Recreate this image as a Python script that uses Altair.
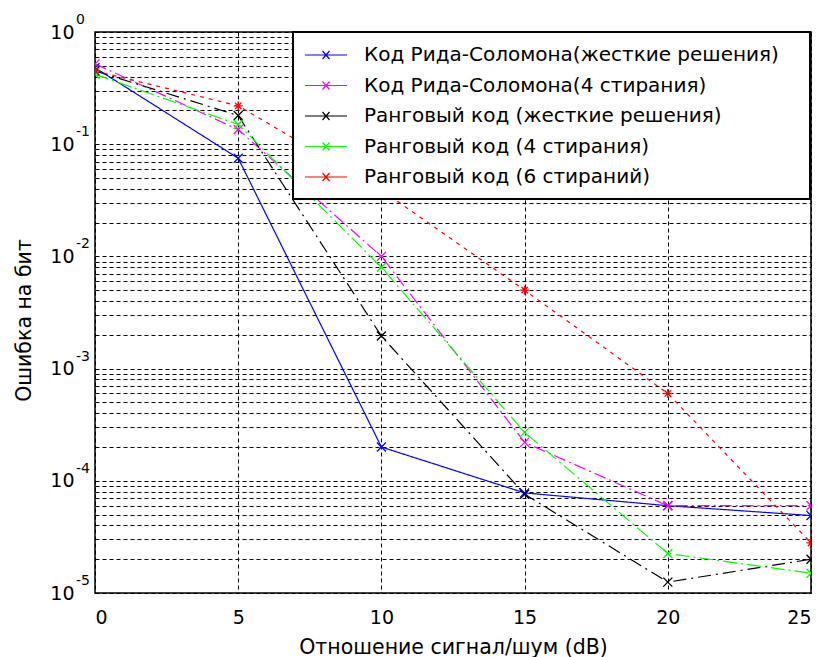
import altair as alt
import pandas as pd

x_vals = [0, 5, 10, 15, 20, 25]
series_names = [
    "Код Рида-Соломона(жесткие решения)",
    "Код Рида-Соломона(4 стирания)",
    "Ранговый код (жесткие решения)",
    "Ранговый код (4 стирания)",
    "Ранговый код (6 стираний)",
]
rs_hard = [0.48, 0.075, 2.0e-4, 7.8e-5, 6.0e-5, 4.9e-5]
rs_4 = [0.52, 0.135, 1.0e-2, 2.2e-4, 6.0e-5, 6.0e-5]
rank_hard = [0.45, 0.18, 1.95e-3, 7.6e-5, 1.25e-5, 2.0e-5]
rank_4 = [0.42, 0.15, 8.0e-3, 2.7e-4, 2.25e-5, 1.5e-5]
rank_6 = [0.45, 0.22, 3.9e-2, 5.0e-3, 6.0e-4, 2.8e-5]

decades = [1, 0.1, 0.01, 0.001, 0.0001, 0.00001]
exponents = ["0", "-1", "-2", "-3", "-4", "-5"]

colors = ["#0000FF", "#FF00FF", "#000000", "#00FF00", "#FF0000"]
dashes = [[1, 0], [12, 4, 2, 4], [13, 5, 2, 5], [14, 4, 2, 4], [4, 5]]
marker_sizes = [81, 81, 64, 81, 225]

X_PATH = "M-1,-1L1,1M-1,1L1,-1"
STAR_PATH = "M-0.7,-0.7L0.7,0.7M-0.7,0.7L0.7,-0.7M0,-1L0,1M-1,0L1,0"
shapes = [X_PATH, X_PATH, X_PATH, X_PATH, STAR_PATH]

all_series = [rs_hard, rs_4, rank_hard, rank_4, rank_6]
rows = []
for name, vals in zip(series_names, all_series):
    for xv, yv in zip(x_vals, vals):
        rows.append({"snr": xv, "ber": yv, "series": name, "marker": name})
df = pd.DataFrame(rows)
exp_df = pd.DataFrame({"ber": decades, "exp": exponents})

y_ticks = []
for e in range(-5, 1):
    for m in range(1, 10):
        v = round(m * 10.0 ** e, 12)
        if v <= 1:
            y_ticks.append(v)
label_expr = (
    "(datum.value == 1 || datum.value == 0.1 || datum.value == 0.01 || "
    "datum.value == 0.001 || datum.value == 0.0001 || datum.value == 0.00001) ? '10' : ''"
)

FONT = "DejaVu Sans"

x_enc = alt.X(
    "snr:Q",
    scale=alt.Scale(domain=[0, 25], nice=False),
    axis=alt.Axis(
        values=[0, 5, 10, 15, 20, 25],
        title="Отношение сигнал/шум (dB)",
        grid=True,
        gridDash=[4, 3],
        gridColor="#000000",
        gridOpacity=1,
        gridWidth=1,
        ticks=False,
        tickSize=0,
        labelPadding=15,
        labelFontSize=19,
        titleFontSize=20.5,
        titlePadding=10,
        labelFont=FONT,
        titleFont=FONT,
        labelColor="#000",
        titleColor="#000",
        titleFontWeight="normal",
        domain=False,
    ),
)
y_enc = alt.Y(
    "ber:Q",
    scale=alt.Scale(type="log", domain=[1e-5, 1], nice=False),
    axis=alt.Axis(
        values=y_ticks,
        labelExpr=label_expr,
        title="Ошибка на бит",
        grid=True,
        gridDash=[4, 3],
        gridColor="#000000",
        gridOpacity=1,
        gridWidth=1,
        ticks=False,
        tickSize=0,
        labelPadding=21,
        labelFontSize=19,
        titleFontSize=20.5,
        titleX=-71,
        titleY=288,
        titleBaseline="middle",
        labelFont=FONT,
        titleFont=FONT,
        labelColor="#000",
        titleColor="#000",
        titleFontWeight="normal",
        labelOverlap=False,
        domain=False,
    ),
)

LEGEND_PATH = "M-2.1,0L2.1,0M-0.35,-0.4L0.35,0.4M-0.35,0.4L0.35,-0.4"

legend = alt.Legend(
    title="\u00a0\u00a0\u00a0",
    titleOrient="right",
    titleFontSize=12,
    titlePadding=19,
    orient="none",
    legendX=198,
    legendY=0,
    symbolType=LEGEND_PATH,
    symbolSize=400,
    symbolOffset=10,
    symbolStrokeWidth=1.2,
    labelFontSize=20,
    labelFont=FONT,
    labelColor="#000",
    labelOffset=27,
    rowPadding=9.5,
    padding=12,
    fillColor="white",
    strokeColor="black",
    labelLimit=600,
)

lines = alt.Chart(df).mark_line(strokeWidth=1.2, clip=True).encode(
    x=x_enc,
    y=y_enc,
    color=alt.Color("series:N", scale=alt.Scale(domain=series_names, range=colors), sort=series_names, legend=legend),
    strokeDash=alt.StrokeDash("series:N", scale=alt.Scale(domain=series_names, range=dashes), sort=series_names, legend=legend),
)

points = alt.Chart(df).mark_point(filled=False, strokeWidth=1.3, opacity=1, clip=True).encode(
    x=alt.X("snr:Q"),
    y=alt.Y("ber:Q"),
    color=alt.Color("marker:N", scale=alt.Scale(domain=series_names, range=colors), legend=None),
    shape=alt.Shape("marker:N", scale=alt.Scale(domain=series_names, range=shapes), legend=None),
    size=alt.Size("marker:N", scale=alt.Scale(domain=series_names, range=marker_sizes), legend=None),
)

exp_text = alt.Chart(exp_df).mark_text(
    align="left", baseline="middle", fontSize=14, font=FONT, color="#000", dy=-12
).encode(
    y=alt.Y("ber:Q"),
    x=alt.value(-19),
    text="exp:N",
)

chart = (
    alt.layer(lines, points, exp_text)
    .resolve_scale(color="independent", shape="independent", size="independent")
    .resolve_legend(color="independent")
    .properties(
        width=716,
        height=561,
        autosize=alt.AutoSizeParams(type="none"),
        padding={"left": 95, "top": 32, "right": 16, "bottom": 64},
        background="white",
    )
    .configure_view(stroke="#000000", strokeWidth=1.5)
    .configure_legend(strokeWidth=2)
)

chart.save("out.html", embed_options={"renderer": "svg", "actions": False})
